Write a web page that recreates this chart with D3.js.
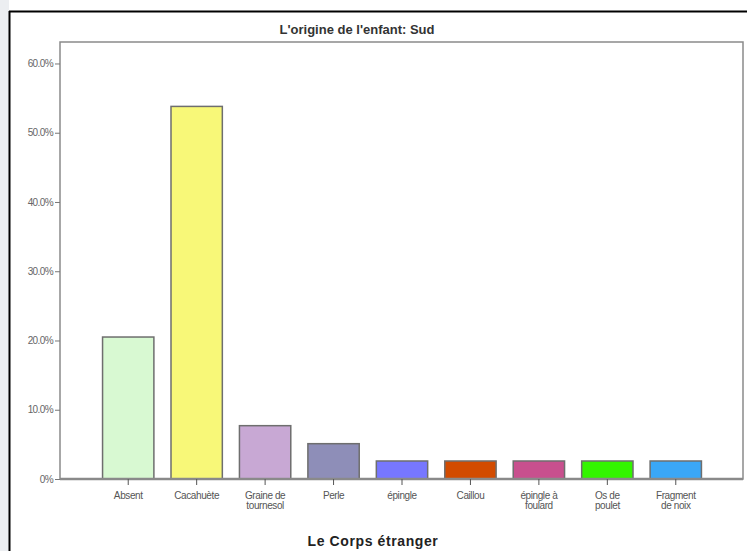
<!DOCTYPE html>
<html>
<head>
<meta charset="utf-8">
<script src="https://cdn.jsdelivr.net/npm/d3@7"></script>
<style>
  body { margin: 0; background: #fff; }
  svg { display: block; font-family: "Liberation Sans", Arial, sans-serif; }
</style>
</head>
<body>
<svg id="chart" width="747" height="551"></svg>
<script>
var categories = ['Absent', 'Cacahuète', 'Graine de|tournesol', 'Perle', 'épingle', 'Caillou', 'épingle à|foulard', 'Os de|poulet', 'Fragment|de noix'];
var percents = [20.5, 53.8, 7.7, 5.1, 2.6, 2.6, 2.6, 2.6, 2.6];
var barColors = ['#d8f9d2', '#f8f878', '#c8a8d4', '#8e8eb8', '#7777ff', '#d24b00', '#c8508e', '#33f500', '#3aa7f7'];
var yTicks = [0, 10, 20, 30, 40, 50, 60];

var svg = d3.select('#chart');

// page backdrop + black frame
svg.append('rect').attr('x', 0).attr('y', 0).attr('width', 9).attr('height', 551).attr('fill', '#eceef1');
svg.append('line').attr('x1', 9).attr('x2', 747).attr('y1', 11.5).attr('y2', 11.5).attr('stroke', '#000').attr('stroke-width', 2);
svg.append('line').attr('x1', 9.5).attr('x2', 9.5).attr('y1', 11).attr('y2', 551).attr('stroke', '#000').attr('stroke-width', 2);

var plotLeft = 60, plotRight = 743, plotTop = 42, plotBottom = 479;

var x = d3.scaleBand()
    .domain(categories)
    .range([94, 710])
    .paddingInner(0.25)
    .paddingOuter(0.125);

var y = d3.scaleLinear()
    .domain([0, 63.1])
    .range([plotBottom, plotTop]);

// plot frame
svg.append('rect')
    .attr('x', plotLeft).attr('y', plotTop)
    .attr('width', plotRight - plotLeft).attr('height', plotBottom - plotTop)
    .attr('fill', '#fff')
    .attr('stroke', '#8a8a8a')
    .attr('stroke-width', 1.5);

// bars
svg.selectAll('.bar')
    .data(categories)
    .enter()
    .append('rect')
    .attr('class', 'bar')
    .attr('x', d => x(d))
    .attr('y', (d, i) => y(percents[i]))
    .attr('width', x.bandwidth())
    .attr('height', (d, i) => y(0) - y(percents[i]))
    .attr('fill', (d, i) => barColors[i])
    .attr('stroke', '#6e6e6e')
    .attr('stroke-width', 1.5);

// baseline
svg.append('line')
    .attr('x1', plotLeft).attr('x2', plotRight)
    .attr('y1', plotBottom).attr('y2', plotBottom)
    .attr('stroke', '#8a8a8a').attr('stroke-width', 2.5);

// y axis
var yAxis = svg.append('g')
    .attr('transform', 'translate(' + plotLeft + ',0)')
    .call(d3.axisLeft(y).tickValues(yTicks).tickSize(5).tickPadding(2)
        .tickFormat(d => d === 0 ? '0%' : d3.format('.1f')(d) + '%'));
yAxis.select('.domain').remove();
yAxis.selectAll('line').attr('stroke', '#777');
yAxis.selectAll('text').attr('fill', '#666').style('font-size', '10px').style('letter-spacing', '-0.6px');

// x axis
var xAxis = svg.append('g')
    .attr('transform', 'translate(0,' + plotBottom + ')')
    .call(d3.axisBottom(x).tickSize(6).tickFormat(''));
xAxis.select('.domain').remove();
xAxis.selectAll('line').attr('stroke', '#555');

xAxis.selectAll('.tick').each(function(d) {
    var t = d3.select(this).append('text')
        .attr('fill', '#555')
        .attr('text-anchor', 'middle')
        .style('font-size', '10px')
        .style('letter-spacing', '-0.4px')
        .attr('y', 20);
    d.split('|').forEach(function(part, i) {
        t.append('tspan').attr('x', 0).attr('dy', i === 0 ? 0 : 10).text(part);
    });
});

// titles
svg.append('text')
    .attr('x', 357).attr('y', 34)
    .attr('text-anchor', 'middle')
    .style('font-size', '13px').style('font-weight', 'bold')
    .attr('fill', '#333')
    .text("L'origine de l'enfant: Sud");

svg.append('text')
    .attr('x', 373).attr('y', 546)
    .attr('text-anchor', 'middle')
    .style('font-size', '14px').style('font-weight', 'bold')
    .style('letter-spacing', '0.6px')
    .attr('fill', '#222')
    .text('Le Corps étranger');
</script>
</body>
</html>
